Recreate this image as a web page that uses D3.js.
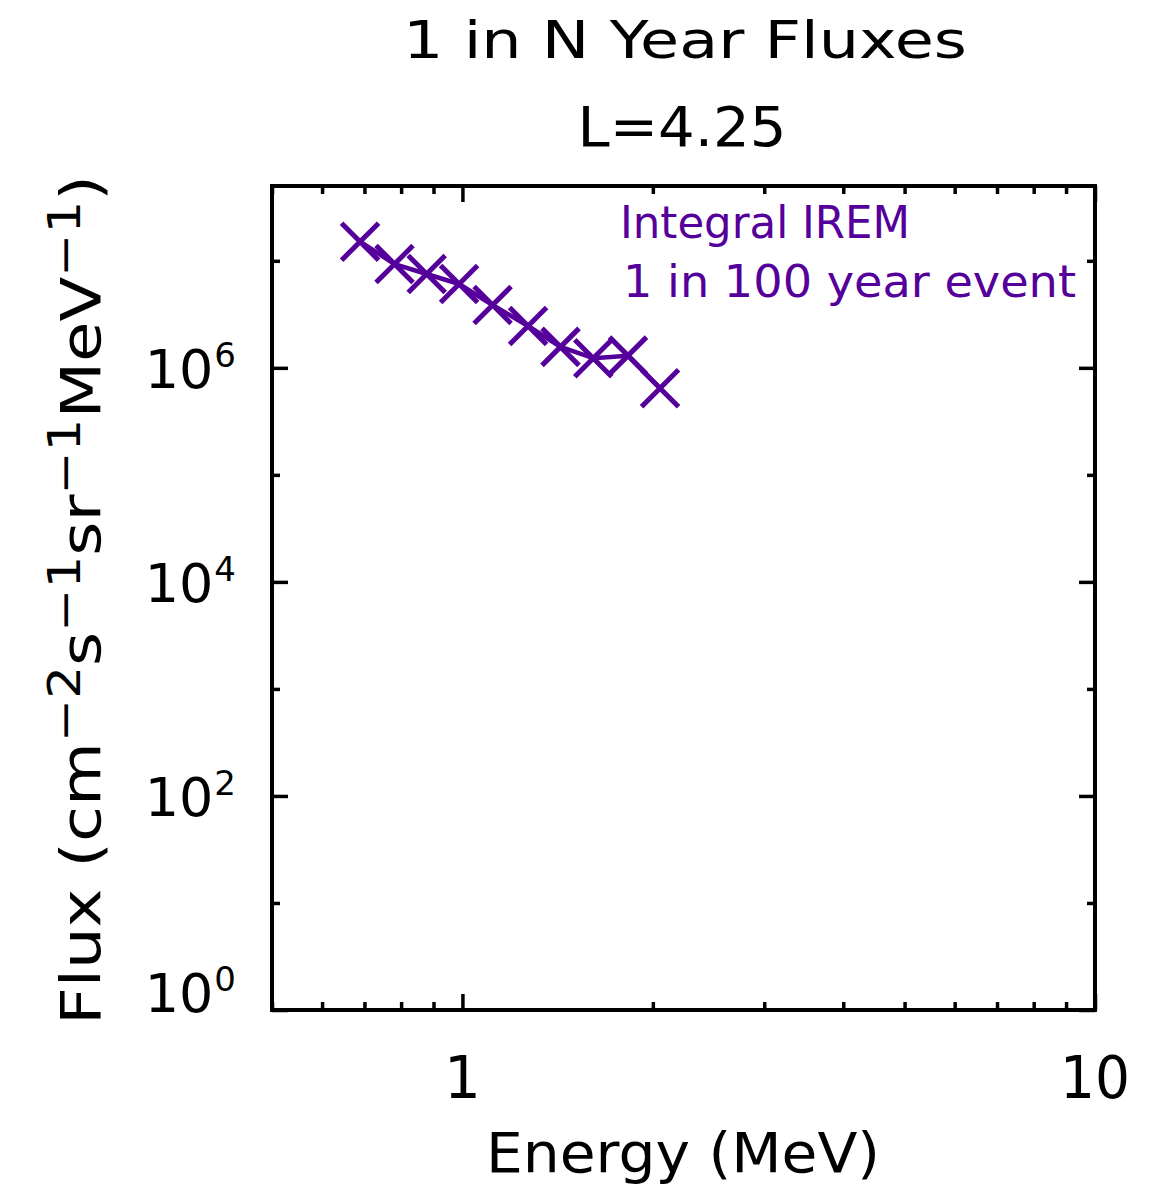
<!DOCTYPE html>
<html>
<head>
<meta charset="utf-8">
<script src="https://cdn.jsdelivr.net/npm/d3@7"></script>
<style>
  html, body { margin: 0; padding: 0; background: #ffffff; }
  svg { display: block; }
  text { font-family: "DejaVu Sans", "Liberation Sans", sans-serif; }
</style>
</head>
<body>
<svg id="chart" width="1156" height="1190"></svg>
<script>
// Integral IREM spectrum, 1 in 100 year event, L = 4.25
const energy = [0.689, 0.781, 0.878, 0.988, 1.116, 1.270, 1.429, 1.610, 1.827, 2.053];
const flux   = [1.51e7, 9.33e6, 7.53e6, 6.07e6, 3.86e6, 2.46e6, 1.57e6, 1.23e6, 1.30e6, 6.44e5];

const xMajorTicks = [1, 10];
const xMinorTicks = [0.5, 0.6, 0.7, 0.8, 0.9, 2, 3, 4, 5, 6, 7, 8, 9];
const yMajorTicks = [1, 1e2, 1e4, 1e6];
const yMajorExps  = ["0", "2", "4", "6"];
const yMinorTicks = [1e1, 1e3, 1e5, 1e7];

const titleLines = ["1 in N Year Fluxes", "L=4.25"];
const legendLines = ["Integral IREM", "1 in 100 year event"];
const xTitle = "Energy (MeV)";

const W = 1156, H = 1190;
const plot = { left: 272, right: 1095, top: 186, bottom: 1010 };
const ink = "#000000";
const series = "#55009a";

const svg = d3.select("#chart");
svg.append("rect").attr("width", W).attr("height", H).attr("fill", "#fff");

const x = d3.scaleLog().domain([0.5, 10]).range([plot.left, plot.right]);
const y = d3.scaleLog().domain([1, 5e7]).range([plot.bottom, plot.top]);

// tick marks on all four sides, pointing inwards
function styleAxis(g) {
  g.select(".domain").remove();
  g.selectAll(".tick line").attr("stroke", ink).attr("stroke-width", 3.5);
}
const major = 16, minor = 8;
const axes = [
  [d3.axisBottom(x), xMajorTicks, xMinorTicks, `translate(0,${plot.bottom})`],
  [d3.axisTop(x), xMajorTicks, xMinorTicks, `translate(0,${plot.top})`],
  [d3.axisLeft(y), yMajorTicks, yMinorTicks, `translate(${plot.left},0)`],
  [d3.axisRight(y), yMajorTicks, yMinorTicks, `translate(${plot.right},0)`]
];
axes.forEach(([ax, maj, mins, tr]) => {
  svg.append("g").attr("transform", tr)
    .call(ax.tickValues(maj).tickSize(-major).tickFormat(() => ""))
    .call(styleAxis);
  svg.append("g").attr("transform", tr)
    .call(ax.tickValues(mins).tickSize(-minor).tickFormat(() => ""))
    .call(styleAxis);
});

// plot frame
svg.append("rect")
  .attr("x", plot.left).attr("y", plot.top)
  .attr("width", plot.right - plot.left).attr("height", plot.bottom - plot.top)
  .attr("fill", "none").attr("stroke", ink).attr("stroke-width", 4);

// x tick labels
const fs = 58;
svg.append("g").selectAll("text").data(xMajorTicks).join("text")
  .attr("x", d => x(d)).attr("y", 1098)
  .attr("text-anchor", "middle").attr("font-size", fs).attr("fill", ink)
  .attr("textLength", d => d === 10 ? 70 : null)
  .attr("lengthAdjust", "spacingAndGlyphs")
  .text(d => String(d));

// y tick labels as powers of ten
const yl = svg.append("g").selectAll("text").data(yMajorTicks).join("text")
  .attr("x", 236).attr("y", d => Math.min(y(d) + 20, 1012))
  .attr("text-anchor", "end").attr("font-size", 54).attr("fill", ink);
yl.append("tspan").text("10");
yl.append("tspan").attr("dx", 1).attr("dy", -21).attr("font-size", 34).text((d, i) => yMajorExps[i]);

// titles
svg.append("text").attr("x", 685).attr("y", 58).attr("text-anchor", "middle")
  .attr("font-size", 52).attr("fill", ink)
  .attr("textLength", 564).attr("lengthAdjust", "spacingAndGlyphs").text(titleLines[0]);
svg.append("text").attr("x", 682).attr("y", 146).attr("text-anchor", "middle")
  .attr("font-size", 56).attr("fill", ink)
  .attr("textLength", 209).attr("lengthAdjust", "spacingAndGlyphs").text(titleLines[1]);

// x axis title
svg.append("text").attr("x", 683).attr("y", 1172).attr("text-anchor", "middle")
  .attr("font-size", 56).attr("fill", ink)
  .attr("textLength", 394).attr("lengthAdjust", "spacingAndGlyphs").text(xTitle);

// y axis title with superscript exponents
const yt = svg.append("text")
  .attr("transform", "translate(100,600) rotate(-90)")
  .attr("text-anchor", "middle").attr("font-size", 56).attr("fill", ink)
  .attr("textLength", 850).attr("lengthAdjust", "spacingAndGlyphs");
const parts = [
  ["Flux (cm", 0], ["\u22122", 1], ["s", 0], ["\u22121", 1],
  ["sr", 0], ["\u22121", 1], ["MeV", 0], ["\u22121", 1], [")", 0]
];
let raised = false;
parts.forEach(([t, sup]) => {
  const ts = yt.append("tspan").text(t);
  if (sup && !raised) { ts.attr("dy", -20).attr("font-size", 44); raised = true; }
  else if (sup) { ts.attr("font-size", 44); }
  else if (!sup && raised) { ts.attr("dy", 20); raised = false; }
});

// connecting line and X symbols
const pts = energy.map((e, i) => [x(e), y(flux[i])]);
svg.append("path")
  .attr("d", d3.line()(pts))
  .attr("fill", "none").attr("stroke", series).attr("stroke-width", 4.5)
  .attr("stroke-linejoin", "round");
const s = 18.5;
svg.append("g").selectAll("path").data(pts).join("path")
  .attr("d", ([px, py]) => `M${px - s},${py - s}L${px + s},${py + s}M${px - s},${py + s}L${px + s},${py - s}`)
  .attr("stroke", series).attr("stroke-width", 5).attr("fill", "none");

// legend text
svg.append("text").attr("x", 620).attr("y", 238).attr("font-size", 44)
  .attr("fill", series).attr("textLength", 290).attr("lengthAdjust", "spacingAndGlyphs")
  .text(legendLines[0]);
svg.append("text").attr("x", 623).attr("y", 297).attr("font-size", 44)
  .attr("fill", series).attr("textLength", 453).attr("lengthAdjust", "spacingAndGlyphs")
  .text(legendLines[1]);
</script>
</body>
</html>
